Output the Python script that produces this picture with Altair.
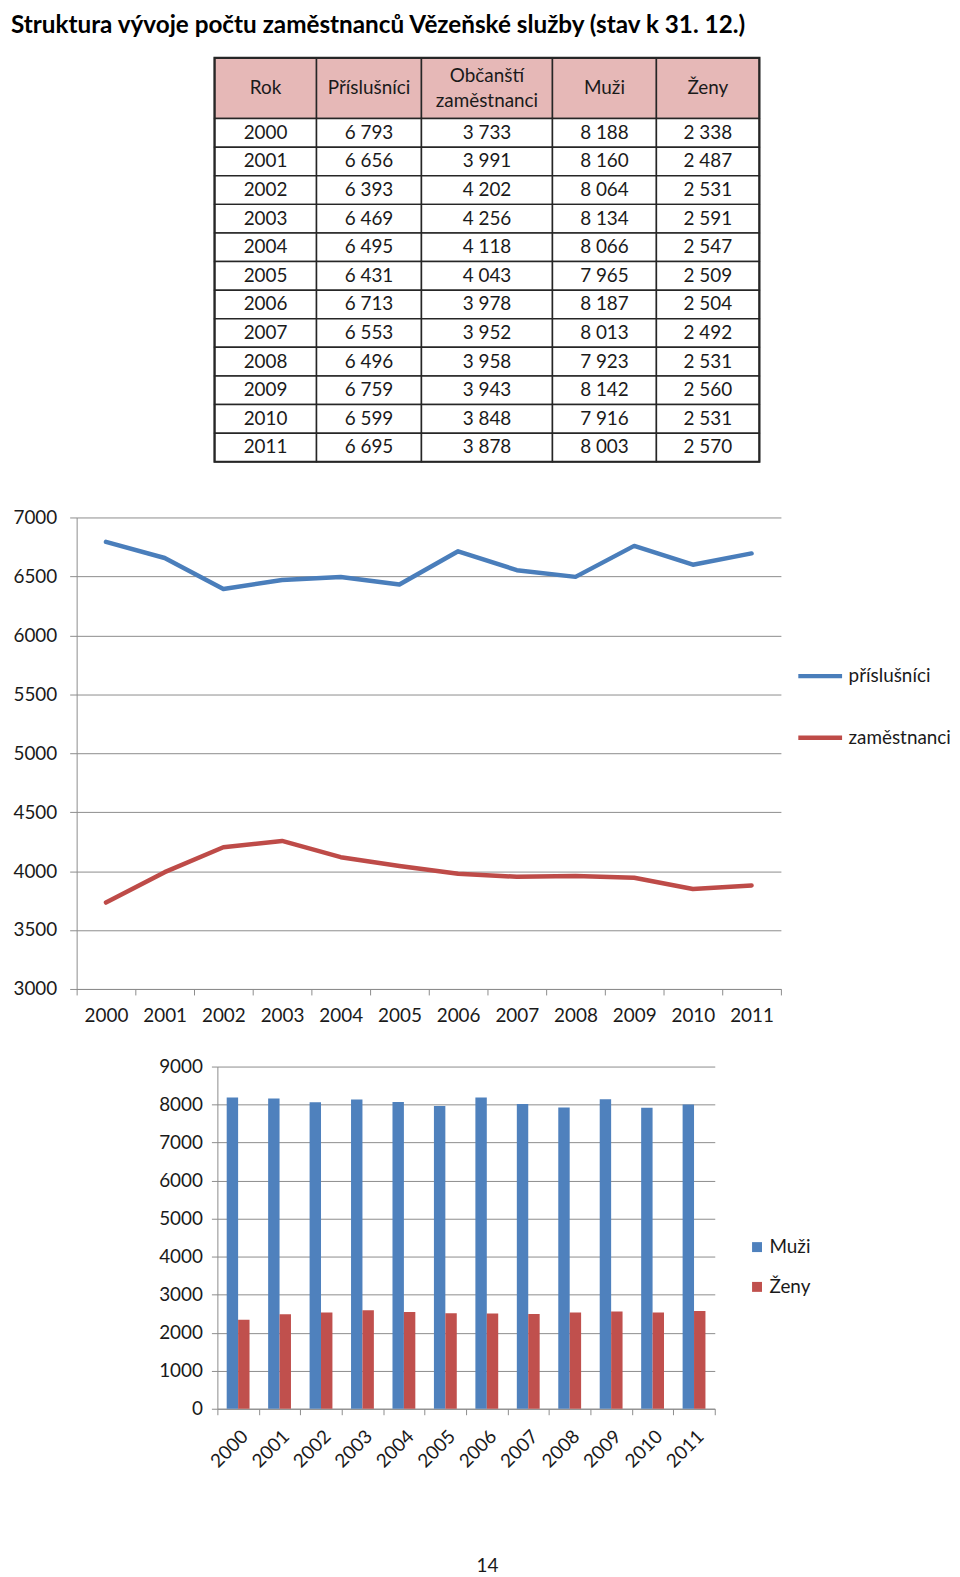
import altair as alt
import pandas as pd

# ---------------- data ----------------
YEARS = [2000, 2001, 2002, 2003, 2004, 2005, 2006, 2007, 2008, 2009, 2010, 2011]
PRISLUSNICI = [6793, 6656, 6393, 6469, 6495, 6431, 6713, 6553, 6496, 6759, 6599, 6695]
ZAMESTNANCI = [3733, 3991, 4202, 4256, 4118, 4043, 3978, 3952, 3958, 3943, 3848, 3878]
MUZI = [8188, 8160, 8064, 8134, 8066, 7965, 8187, 8013, 7923, 8142, 7916, 8003]
ZENY = [2338, 2487, 2531, 2591, 2547, 2509, 2504, 2492, 2531, 2560, 2531, 2570]

TABLE_HEADERS = ["Rok", "Příslušníci", "Občanští\nzaměstnanci", "Muži", "Ženy"]
LINE_SERIES = ["příslušníci", "zaměstnanci"]
BAR_SERIES = ["Muži", "Ženy"]
LINE_TICKS = [3000, 3500, 4000, 4500, 5000, 5500, 6000, 6500, 7000]
BAR_TICKS = [0, 1000, 2000, 3000, 4000, 5000, 6000, 7000, 8000, 9000]
TITLE = "Struktura vývoje počtu zaměstnanců Vězeňské služby (stav k 31. 12.)"
PAGE_NUMBER = "14"

# ---------------- style ----------------
FONT = "Lato"
FS = 19
BLUE_LINE = "#4A7EBB"
RED_LINE = "#BE4B48"
BLUE_BAR = "#4F81BD"
RED_BAR = "#C0504D"
GRID = "#8C8C8C"
HEADER_FILL = "#E6B8B7"
BORDER = "#262626"

# table geometry (layout)
COL_WIDTHS = [102.5, 105.5, 131.7, 104.5, 103.5]
HEADER_H = 61
ROW_H = 28.75
LINE_H = 25
TABLE_SHIFT = 55   # extra empty width to the right of the table panel


def fmt(v):
    return f"{v:,}".replace(",", " ")


# ---------------- table ----------------
col_edges = [0]
for w in COL_WIDTHS:
    col_edges.append(col_edges[-1] + w)
body_rows = [
    [str(y), fmt(p), fmt(z), fmt(m), fmt(f)]
    for y, p, z, m, f in zip(YEARS, PRISLUSNICI, ZAMESTNANCI, MUZI, ZENY)
]
all_rows = [TABLE_HEADERS] + body_rows
row_edges = [0, HEADER_H] + [HEADER_H + ROW_H * (i + 1) for i in range(len(body_rows))]
TW = col_edges[-1]
TH = row_edges[-1]

cells = []
for r, row in enumerate(all_rows):
    for c, txt in enumerate(row):
        nlines = txt.count("\n") + 1
        cells.append(dict(
            x0=col_edges[c], x1=col_edges[c + 1],
            y0=row_edges[r], y1=row_edges[r + 1],
            xm=(col_edges[c] + col_edges[c + 1]) / 2,
            ym=(row_edges[r] + row_edges[r + 1]) / 2 - (nlines - 1) * LINE_H / 2,
            text=txt, kind="header" if r == 0 else "body",
        ))
cells_df = pd.DataFrame(cells)
outer_df = pd.DataFrame([dict(x0=0, x1=TW, y0=0, y1=TH)])

tx = alt.Scale(domain=[0, TW], range=[0, TW], nice=False, zero=False)
ty = alt.Scale(domain=[0, TH], range=[0, TH], nice=False, zero=False)

t_cells = alt.Chart(cells_df).mark_rect(stroke=BORDER, strokeWidth=1.5).encode(
    x=alt.X("x0:Q", scale=tx, axis=None),
    x2="x1:Q",
    y=alt.Y("y0:Q", scale=ty, axis=None),
    y2="y1:Q",
    fill=alt.Fill("kind:N", scale=alt.Scale(domain=["header", "body"], range=[HEADER_FILL, "#ffffff"]), legend=None),
)
t_outer = alt.Chart(outer_df).mark_rect(fill=None, stroke=BORDER, strokeWidth=2.2).encode(
    x=alt.X("x0:Q", scale=tx, axis=None),
    x2="x1:Q",
    y=alt.Y("y0:Q", scale=ty, axis=None),
    y2="y1:Q",
)
t_text = alt.Chart(cells_df).mark_text(fontSize=FS, font=FONT, lineBreak="\n", lineHeight=LINE_H,
                                       baseline="middle", color="#1a1a1a").encode(
    x=alt.X("xm:Q", scale=tx, axis=None),
    y=alt.Y("ym:Q", scale=ty, axis=None),
    text="text:N",
)
table = alt.layer(t_cells, t_outer, t_text).properties(width=TW + TABLE_SHIFT, height=TH + 15)

# ---------------- line chart ----------------
line_df = pd.DataFrame({
    "year": YEARS * 2,
    "value": PRISLUSNICI + ZAMESTNANCI,
    "series": [LINE_SERIES[0]] * len(YEARS) + [LINE_SERIES[1]] * len(YEARS),
})
line = alt.Chart(line_df).mark_line(strokeWidth=4.5, strokeJoin="round", strokeCap="round").encode(
    x=alt.X("year:O", scale=alt.Scale(type="band", paddingInner=0, paddingOuter=0),
            axis=alt.Axis(title=None, labelAngle=0, tickBand="extent", tickSize=6,
                          labelPadding=12, labelOverlap=False, labelFontSize=FS)),
    y=alt.Y("value:Q", scale=alt.Scale(domain=[3000, 7000], nice=False, zero=False),
            axis=alt.Axis(title=None, values=LINE_TICKS, format="d", tickSize=7,
                          labelPadding=13, labelFontSize=FS)),
    color=alt.Color("series:N", scale=alt.Scale(domain=LINE_SERIES, range=[BLUE_LINE, RED_LINE]),
                    legend=alt.Legend(title=None, orient="none", legendX=723, legendY=135,
                                      symbolType="stroke", symbolSize=1936, symbolStrokeWidth=4.5,
                                      labelFontSize=FS, labelOffset=4, rowPadding=27)),
).properties(width=708, height=474)

# ---------------- bar chart ----------------
bar_df = pd.DataFrame({
    "year": YEARS * 2,
    "value": MUZI + ZENY,
    "sex": [BAR_SERIES[0]] * len(YEARS) + [BAR_SERIES[1]] * len(YEARS),
})
bar = alt.Chart(bar_df).mark_bar().encode(
    x=alt.X("year:O", scale=alt.Scale(paddingInner=0, paddingOuter=0),
            axis=alt.Axis(title=PAGE_NUMBER, labelAngle=-45, tickBand="extent", tickSize=6,
                          labelPadding=12, labelOverlap=False, labelFontSize=FS,
                          titleX=271, titleY=158, titleBaseline="middle", titleAngle=0,
                          titleFontSize=FS, titleFontWeight="normal", titleFont=FONT,
                          titleColor="#1a1a1a")),
    xOffset=alt.XOffset("sex:N", scale=alt.Scale(domain=BAR_SERIES, paddingInner=0, paddingOuter=0.815)),
    y=alt.Y("value:Q", scale=alt.Scale(domain=[0, 9000], nice=False),
            axis=alt.Axis(title=None, values=BAR_TICKS, format="d", tickSize=6,
                          labelPadding=9, labelFontSize=FS)),
    color=alt.Color("sex:N", scale=alt.Scale(domain=BAR_SERIES, range=[BLUE_BAR, RED_BAR]),
                    legend=alt.Legend(title=None, orient="none", legendX=533, legendY=172,
                                      symbolType="square", symbolSize=100, symbolStrokeWidth=0,
                                      labelFontSize=FS, labelOffset=3, rowPadding=20)),
).properties(width=500, height=344)

chart = alt.VConcatChart(
    vconcat=[table, line, bar], spacing=32, center=True
).resolve_scale(color="independent").resolve_legend(color="independent").properties(
    title=alt.TitleParams(TITLE, anchor="start", fontSize=24.4, fontWeight="bold", font=FONT,
                          color="#000000", dx=-2, offset=19),
    padding={"left": 2, "top": 0, "right": 0, "bottom": 0},
).configure(font=FONT).configure_view(stroke=None).configure_axis(
    labelFont=FONT, labelColor="#1a1a1a", domainColor=GRID, tickColor=GRID,
    gridColor=GRID, gridWidth=1, domainWidth=1, tickWidth=1,
).configure_legend(labelFont=FONT, labelColor="#1a1a1a", padding=0)

chart.save("out.html", embed_options={"renderer": "svg", "actions": False})
